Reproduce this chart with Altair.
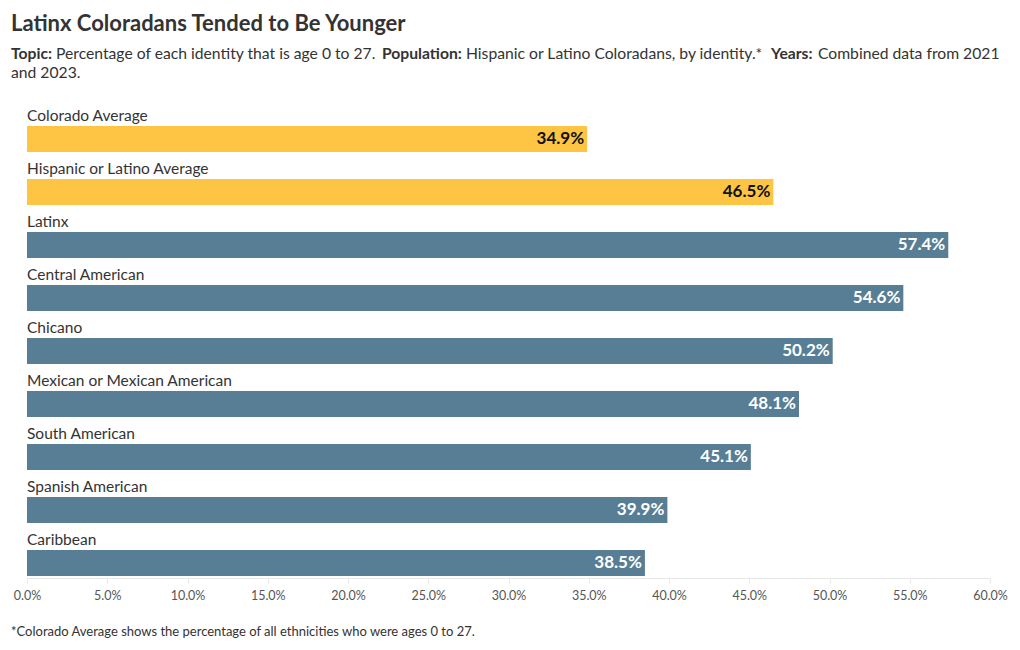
import altair as alt
import pandas as pd

categories = ["Colorado Average", "Hispanic or Latino Average", "Latinx", "Central American",
              "Chicano", "Mexican or Mexican American", "South American", "Spanish American", "Caribbean"]
values = [34.9, 46.5, 57.4, 54.6, 50.2, 48.1, 45.1, 39.9, 38.5]
groups = ["avg", "avg", "id", "id", "id", "id", "id", "id", "id"]
x_ticks = [0, 5, 10, 15, 20, 25, 30, 35, 40, 45, 50, 55, 60]

FONT = "Lato"
df = pd.DataFrame({"cat": categories, "val": values, "grp": groups})
df["lab"] = df["val"].map(lambda v: f"{v:.1f}%")

W, H = 963, 454

yscale = alt.Scale(domain=categories, paddingInner=0.509, paddingOuter=0.038)
xscale = alt.Scale(domain=[0, 60], nice=False)
color = alt.Color("grp:N", scale=alt.Scale(domain=["avg", "id"], range=["#FDC543", "#577E95"]), legend=None)

base = alt.Chart(df)

bars = base.mark_bar(cornerRadius=0).encode(
    y=alt.Y("cat:N", scale=yscale, axis=None, sort=categories),
    x=alt.X("val:Q", scale=xscale,
            axis=alt.Axis(values=x_ticks, labelExpr="format(datum.value, '.1f') + '%'",
                          title=None, grid=False, domainColor="#e6e6e6", tickColor="#e6e6e6",
                          tickSize=5, labelColor="#555555", labelFont=FONT, labelFontSize=12.5,
                          labelPadding=6, labelFlush=False)),
    color=color,
)

names = base.mark_text(align="left", baseline="alphabetic", dy=-18, font=FONT, fontSize=15.5,
                       color="#333333").encode(
    y=alt.Y("cat:N", scale=yscale, sort=categories),
    x=alt.value(0),
    text="cat:N",
)

vals = base.mark_text(align="right", baseline="middle", dx=-3, font=FONT, fontSize=17,
                      fontWeight="bold").encode(
    y=alt.Y("cat:N", scale=yscale, sort=categories),
    x=alt.X("val:Q", scale=xscale),
    text="lab:N",
    color=alt.Color("grp:N", scale=alt.Scale(domain=["avg", "id"], range=["#111111", "#ffffff"]),
                    legend=None),
)

OX, OY = 27, 124  # plot origin on the page


def txt(s, px, py, size, bold=False, color="#333333"):
    return alt.Chart(pd.DataFrame({"t": [s]})).mark_text(
        align="left", baseline="alphabetic", font=FONT, fontSize=size,
        fontWeight="bold" if bold else "normal", color=color,
    ).encode(x=alt.value(px - OX), y=alt.value(py - OY), text="t:N")


SUB = 15.7
annos = [
    txt("Latinx Coloradans Tended to Be Younger", 11, 31, 22, True),
    txt("Topic:", 11, 59, SUB, True),
    txt("Percentage of each identity that is age 0 to 27.", 56, 59, SUB),
    txt("Population:", 382, 59, SUB, True),
    txt("Hispanic or Latino Coloradans, by identity.*", 466, 59, SUB),
    txt("Years:", 771, 59, SUB, True),
    txt("Combined data from 2021", 818, 59, SUB),
    txt("and 2023.", 11, 78, SUB),
    txt("*Colorado Average shows the percentage of all ethnicities who were ages 0 to 27.", 11, 636, 13),
]

chart = alt.layer(bars, names, vals, *annos).resolve_scale(color="independent").properties(
    width=W, height=H,
    background="white",
    autosize=alt.AutoSizeParams(type="none"),
    padding={"left": OX - 8, "top": OY - 8, "right": 22, "bottom": 62},
).configure_view(strokeWidth=0)

chart.save("out.html", embed_options={"renderer": "svg", "actions": False})
